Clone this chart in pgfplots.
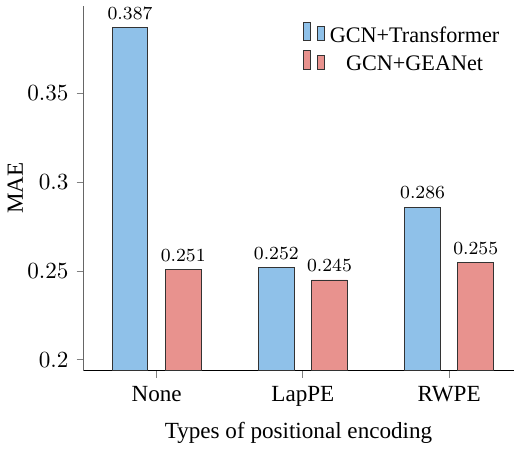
\documentclass[border=0pt]{standalone}
\usepackage{fontspec}
\setmainfont{Liberation Serif}
\usepackage{pgfplots}
\pgfplotsset{compat=1.18}
\definecolor{barblue}{RGB}{143,193,233}
\definecolor{barred}{RGB}{232,146,142}
\begin{document}
\begin{tikzpicture}
\begin{axis}[
  scale only axis,
  width=186pt, height=158pt,
  ybar=7.5pt, bar width=15.5pt,
  xmin=-0.5, xmax=2.44,
  ymin=0.1938, ymax=0.3995,
  axis x line=bottom, axis y line=left,
  axis line style={-, gray!80!black},
  x axis line style={black},
  tick align=outside,
  tick style={gray, thin},
  major tick length=3pt,
  xtick={0,1,2},
  xticklabels={None,LapPE,RWPE},
  x tick label style={font=\rmfamily},
  ytick={0.2,0.25,0.3,0.35},
  xlabel={Types of positional encoding},
  ylabel={MAE},
  ylabel style={yshift=-5pt},
  nodes near coords,
  nodes near coords style={font=\footnotesize, /pgf/number format/fixed, /pgf/number format/precision=3},
  legend style={draw=none, fill=none, at={(0.995,0.97)}, anchor=north east, font=\fontsize{9.6}{11}\selectfont},
  legend cell align=center,
]
\addplot[fill=barblue, draw=black!80] coordinates {(0,0.387) (1,0.252) (2,0.286)};
\addlegendentry{GCN+Transformer}
\addplot[fill=barred, draw=black!80] coordinates {(0,0.251) (1,0.245) (2,0.255)};
\addlegendentry{GCN+GEANet}
\end{axis}
\end{tikzpicture}
\end{document}
